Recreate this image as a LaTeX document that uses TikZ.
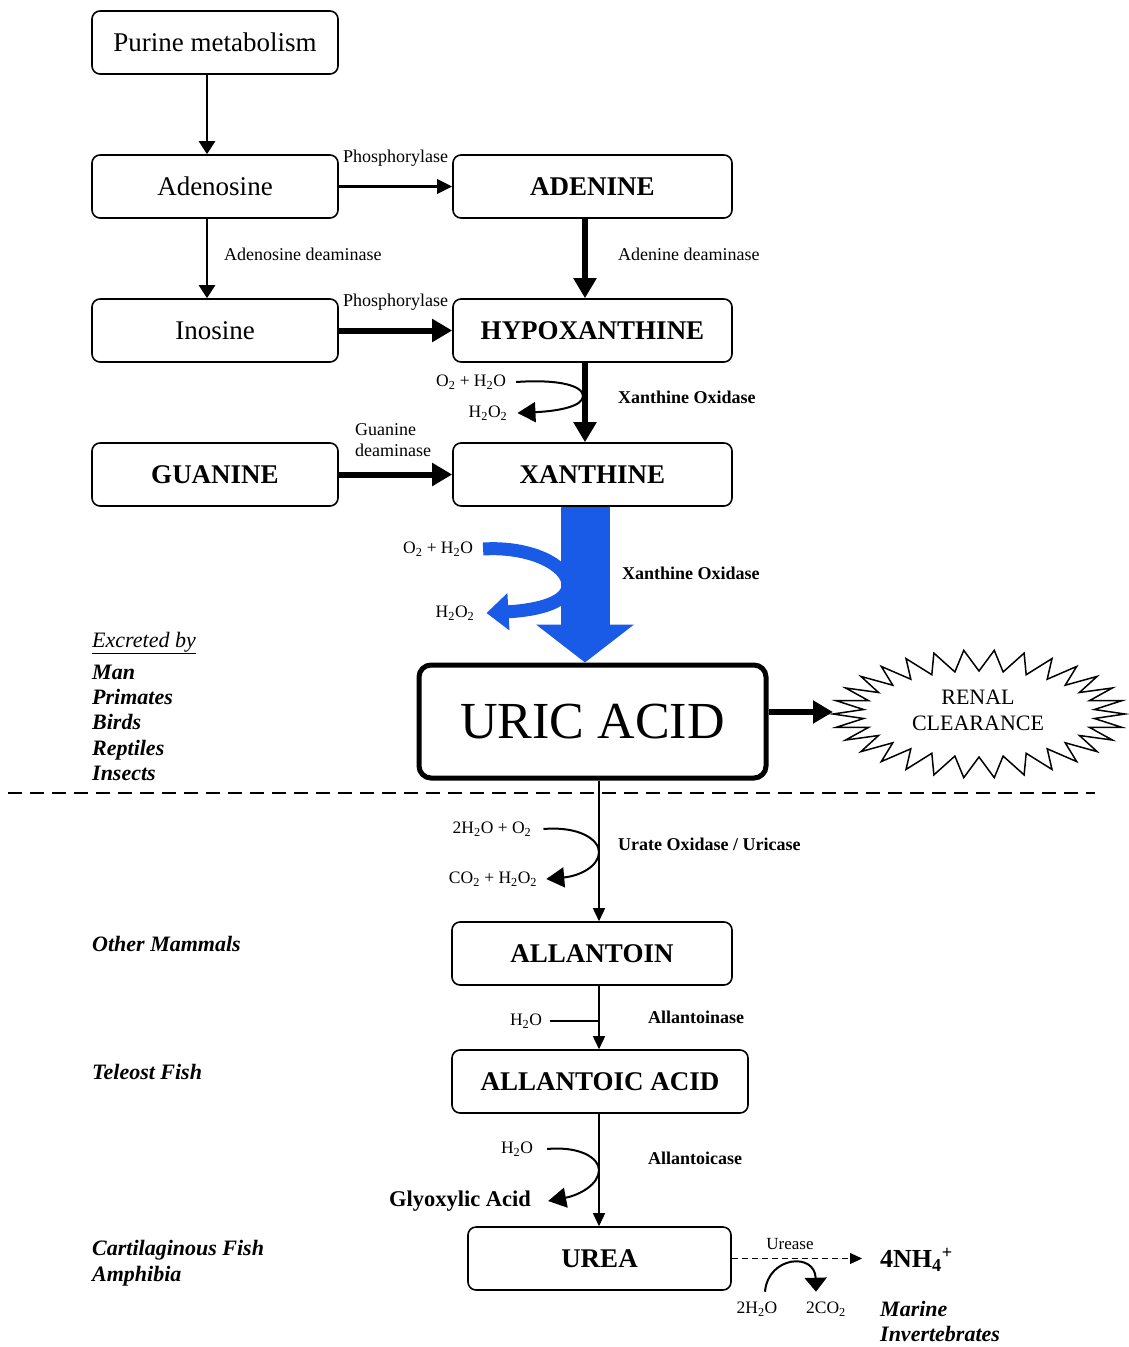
\documentclass[tikz,border=0pt]{standalone}
\usepackage{fontspec}
\setmainfont{Liberation Serif}
\usetikzlibrary{arrows.meta}
\definecolor{xblue}{RGB}{25,90,230}
\begin{document}
\begin{tikzpicture}[x=1pt,y=-1pt,
 box/.style={draw, line width=1.6pt, rounded corners=8pt, minimum height=63pt, inner sep=0pt},
 lbox/.style={box, minimum width=246pt, font=\fontsize{27}{32}\selectfont},
 rbox/.style={box, minimum width=279pt, font=\bfseries\fontsize{27}{32}\selectfont},
 enz/.style={font=\fontsize{18}{21}\selectfont, inner sep=0pt},
 benz/.style={font=\bfseries\fontsize{18}{21}\selectfont, inner sep=0pt, anchor=west},
 chem/.style={font=\fontsize{17.5}{20}\selectfont, inner sep=0pt},
 org/.style={font=\bfseries\itshape\fontsize{22}{26}\selectfont, inner sep=0pt, anchor=base west},
 thinarr/.style={line width=2.5pt, -{Triangle[length=13pt,width=16pt]}},
 thickarr/.style={line width=6pt, -{Triangle[length=20pt,width=22pt]}},
 finearr/.style={line width=1.5pt, -{Triangle[length=13pt,width=12pt]}},
 sidearr/.style={line width=2pt, -{Triangle[length=18pt,width=20pt]}}]
\useasboundingbox (0,0) rectangle (1128,1347);

% boxes
\node[lbox] (purine) at (215,42.5) {Purine metabolism};
\node[lbox] (adenosine) at (215,186.5) {Adenosine};
\node[lbox] (inosine) at (215,330.5) {Inosine};
\node[lbox, font=\bfseries\fontsize{27}{32}\selectfont] (guanine) at (215,474.5) {GUANINE};
\node[rbox] (adenine) at (592.5,186.5) {ADENINE};
\node[rbox] (hypo) at (592.5,330.5) {HYPOXANTHINE};
\node[rbox] (xanthine) at (592.5,474.5) {XANTHINE};
\node[box, line width=5pt, rounded corners=12pt, minimum width=347pt, minimum height=113pt, font=\fontsize{52}{60}\selectfont] (uric) at (592.5,721.5) {URIC ACID};
\node[rbox, minimum width=280pt] (allantoin) at (592,953.5) {ALLANTOIN};
\node[rbox, minimum width=296pt] (allantoic) at (600,1081.5) {ALLANTOIC ACID};
\node[rbox, minimum width=263pt] (urea) at (599.5,1258.5) {UREA};

% top arrows
\draw[thinarr] ([xshift=-8pt]purine.south) -- ([xshift=-8pt]adenosine.north);
\draw[thinarr] ([xshift=-8pt]adenosine.south) -- ([xshift=-8pt]inosine.north);
\draw[line width=3pt, -{Triangle[length=15pt,width=14pt]}] (adenosine.east) -- (adenine.west);
\draw[thickarr] ([xshift=-7.5pt]adenine.south) -- ([xshift=-7.5pt]hypo.north);
\draw[thickarr] (inosine.east) -- (hypo.west);
\draw[thickarr] ([xshift=-7.5pt]hypo.south) -- ([xshift=-7.5pt]xanthine.north);
\draw[thickarr] (guanine.east) -- (xanthine.west);

% labels top
\node[enz, anchor=west] (ph1) at (343,158) {Phosphorylase};
\node[enz, anchor=west] (ph2) at (343,302) {Phosphorylase};
\node[enz, anchor=west] (add) at (224,254) {Adenosine deaminase};
\node[enz, anchor=west] (aded) at (618,254) {Adenine deaminase};
\node[enz, anchor=west, align=left] (gd) at (355,440) {Guanine\\deaminase};

% xanthine oxidase (hypoxanthine)
\node[benz] (xo1) at (618,397) {Xanthine Oxidase};
\node[chem] (o2a) at (471,382) {O\textsubscript{2} + H\textsubscript{2}O};
\node[chem] (h2o2a) at (488,413) {H\textsubscript{2}O\textsubscript{2}};
\draw[sidearr] ([xshift=10pt]o2a.east) .. controls (560,379) and (583,386) .. (583,396) .. controls (583,406) and (560,411) .. ([xshift=10pt]h2o2a.east);

% blue xanthine oxidase
\node[chem] (o2b) at (438,549) {O\textsubscript{2} + H\textsubscript{2}O};
\node[chem] (h2o2b) at (455,613) {H\textsubscript{2}O\textsubscript{2}};
\draw[xblue, line width=13pt, -{Triangle[length=22pt,width=36pt]}] ([xshift=10pt]o2b.east) .. controls (530,546) and (568,565) .. (568,585) .. controls (568,602) and (540,610) .. ([xshift=12pt]h2o2b.east);
\draw[xblue, line width=49pt, -{Triangle[length=38pt,width=96pt]}] ([xshift=-7.5pt]xanthine.south) -- ([xshift=-7.5pt]uric.north);
\node[benz] (xo2) at (622,573) {Xanthine Oxidase};

% renal clearance
\coordinate (renalL) at (833,712);
\draw[line width=1.5pt, line join=miter] plot[domain=0:360, samples=61, variable=\t] ({979+(mod(round(\t/6),2)==0 ? 146 : 116)*cos(\t)}, {714+(mod(round(\t/6),2)==0 ? 64 : 43)*sin(\t)}) -- cycle;
\node[font=\fontsize{22}{26}\selectfont, align=center, inner sep=0pt] (renal) at (978,710) {RENAL\\CLEARANCE};
\draw[thickarr] (uric.east |- renalL) -- (renalL);

% excreted by
\node[font=\itshape\fontsize{22}{26}\selectfont, inner sep=0pt, anchor=base west] (exc) at (92,647) {\underline{Excreted by}};
\node[org] (man) at (92,679) {Man};
\node[org] (prim) at (92,704) {Primates};
\node[org] (birds) at (92,729) {Birds};
\node[org] (rept) at (92,755) {Reptiles};
\node[org] (ins) at (92,780) {Insects};

% dashed separator
\draw[line width=2pt, dash pattern=on 14pt off 8pt] (8,793) -- (1095,793);

% uric -> allantoin
\draw[finearr] ([xshift=6.5pt]uric.south) -- ([xshift=7pt]allantoin.north);
\node[chem] (o2c) at (492,829) {2H\textsubscript{2}O + O\textsubscript{2}};
\node[chem] (co2) at (493,879) {CO\textsubscript{2} + H\textsubscript{2}O\textsubscript{2}};
\draw[sidearr] ([xshift=12pt]o2c.east) .. controls (580,826) and (599,840) .. (599,852) .. controls (599,866) and (580,876) .. ([xshift=9pt]co2.east);
\node[benz] (uo) at (618,844) {Urate Oxidase / Uricase};
\node[org] (mamm) at (92,951) {Other Mammals};

% allantoin -> allantoic
\draw[finearr] ([xshift=7pt]allantoin.south) -- ([xshift=-1pt]allantoic.north);
\node[chem] (h2oa) at (526,1021) {H\textsubscript{2}O};
\coordinate (ax) at (599,1021);
\draw[line width=1.5pt] ([xshift=8pt]h2oa.east) -- (ax);
\node[benz] (alase) at (648,1017) {Allantoinase};
\node[org] (tele) at (92,1079) {Teleost Fish};

% allantoic -> urea
\draw[finearr] ([xshift=-1pt]allantoic.south) -- ([xshift=-0.5pt]urea.north);
\node[chem] (h2ob) at (517,1149) {H\textsubscript{2}O};
\node[font=\bfseries\fontsize{22.5}{26}\selectfont, inner sep=0pt] (gly) at (460,1201) {Glyoxylic Acid};
\draw[sidearr] ([xshift=14pt]h2ob.east) .. controls (580,1146) and (599,1158) .. (599,1170) .. controls (599,1184) and (580,1195) .. ([xshift=17pt]gly.east);
\node[benz] (alcase) at (648,1158) {Allantoicase};
\node[org] (cart) at (92,1255) {Cartilaginous Fish};
\node[org] (amph) at (92,1281) {Amphibia};

% urease
\node[font=\bfseries\fontsize{26}{30}\selectfont, inner sep=0pt, anchor=west] (nh4) at (880,1260) {4NH\textsubscript{4}\textsuperscript{+}};
\coordinate (nhtip) at (862,1258.5);
\draw[line width=1.2pt, dash pattern=on 6pt off 4pt, -{Triangle[length=12pt,width=11pt]}] (urea.east) -- (nhtip);
\node[enz, font=\fontsize{17}{20}\selectfont] (urease) at (790,1244) {Urease};
\node[chem] (h2oc) at (757,1309) {2H\textsubscript{2}O};
\node[chem] (co2b) at (826,1309) {2CO\textsubscript{2}};
\draw[line width=2pt, -{Triangle[length=14pt,width=22pt]}] ([xshift=8pt,yshift=10pt]h2oc.north) .. controls (768,1256) and (815,1252) .. ([xshift=-10pt,yshift=10pt]co2b.north);
\node[org] (marine) at (880,1316) {Marine};
\node[org] (inv) at (880,1341) {Invertebrates};
\end{tikzpicture}
\end{document}
